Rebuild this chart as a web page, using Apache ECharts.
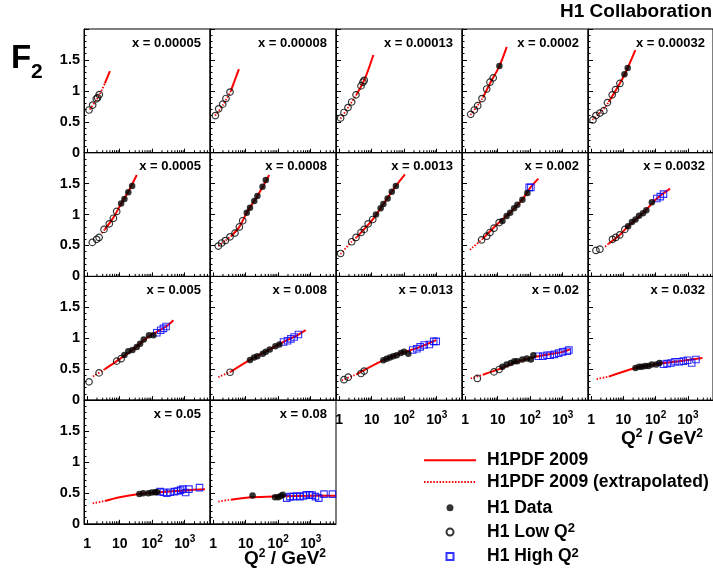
<!DOCTYPE html>
<html><head><meta charset="utf-8">
<script src="https://cdn.jsdelivr.net/npm/echarts@6/dist/echarts.min.js"></script>
<style>html,body{margin:0;padding:0;background:#fff}#chart{width:713px;height:577px}</style>
</head><body><div id="chart"></div>
<script>
// ---------------- data ----------------
const xBins = ['0.00005','0.00008','0.00013','0.0002','0.00032','0.0005','0.0008','0.0013','0.002','0.0032','0.005','0.008','0.013','0.02','0.032','0.05','0.08'];
const xTickValues = [1, 10, 100, 1000];
const xTickLabels = ['1', '10', '10{s|2}', '10{s|3}'];
const yTickValues = [0, 0.5, 1, 1.5];
const yTickLabels = ['0', '0.5', '1', '1.5'];
const minorXTicks = [2,3,4,5,6,7,8,9,20,30,40,50,60,70,80,90,200,300,400,500,600,700,800,900,2000,3000,4000,5000];
const fitBoundary = 3.5; // Q2 above which the fit is shown solid

const fitCurves = [
  [[1.2,0.70],[1.9,0.85],[2.4,0.94],[3.5,1.12],[5.0,1.32]],
  [[1.15,0.60],[2.0,0.77],[3.5,1.0],[6.2,1.35]],
  [[1.1,0.55],[2.0,0.75],[3.5,0.95],[6.0,1.18],[11.3,1.58]],
  [[1.45,0.61],[2.4,0.76],[3.5,0.89],[5.8,1.12],[11.3,1.40],[19,1.71]],
  [[1.1,0.53],[2.5,0.71],[3.5,0.82],[5.7,1.0],[10.8,1.26],[23.5,1.66]],
  [[2.8,0.70],[3.5,0.76],[6.4,0.95],[11,1.17],[18,1.36],[33.5,1.64]],
  [[1.44,0.49],[2.4,0.58],[3.5,0.645],[6.4,0.80],[10.8,1.03],[22.9,1.30],[53,1.64]],
  [[1.1,0.36],[2.4,0.56],[3.5,0.635],[10.8,0.92],[23,1.17],[55,1.46],[106,1.65]],
  [[1.4,0.43],[3.5,0.61],[11,0.87],[24,1.03],[57,1.24],[100,1.43],[178,1.58]],
  [[2.7,0.48],[3.5,0.53],[7.7,0.67],[14,0.81],[40,1.02],[109,1.26],[280,1.42]],
  [[1.5,0.38],[3.5,0.50],[8.1,0.63],[24.7,0.81],[80,1.03],[268,1.19],[449,1.29]],
  [[1.44,0.37],[3.5,0.46],[13.6,0.65],[55,0.82],[146,0.94],[420,1.06],[700,1.13]],
  [[1.2,0.32],[3.5,0.42],[23,0.645],[79,0.76],[245,0.84],[967,0.97]],
  [[1.48,0.35],[3.5,0.41],[11,0.50],[40,0.62],[178,0.71],[1000,0.78],[1670,0.82]],
  [[1.48,0.34],[3.5,0.38],[23.7,0.52],[131,0.59],[540,0.63],[2836,0.68]],
  [[1.48,0.33],[3.5,0.37],[10,0.43],[40,0.48],[175,0.51],[1000,0.54],[4200,0.56]],
  [[1.44,0.36],[3.5,0.39],[16,0.43],[100,0.445],[1000,0.455],[5900,0.455]]
];

const lowQ2Data = [
  [[1.14,0.69],[1.48,0.77],[1.91,0.87],[2.1,0.89],[2.36,0.94]],
  [[1.17,0.60],[1.48,0.71],[1.97,0.785],[2.48,0.876],[3.3,0.98]],
  [[1.11,0.56],[1.41,0.65],[1.87,0.73],[2.43,0.82],[3.3,0.935],[4.7,1.08],[5.4,1.14],[5.9,1.17]],
  [[1.48,0.62],[1.91,0.69],[2.43,0.76],[3.3,0.875],[4.6,1.03],[5.8,1.14],[7.3,1.21]],
  [[1.14,0.53],[1.41,0.60],[1.87,0.64],[2.47,0.68],[3.2,0.81],[4.5,0.935],[5.7,1.02],[7.8,1.12]],
  [[1.44,0.55],[1.96,0.60],[2.33,0.63],[3.3,0.76],[4.8,0.85],[6.4,0.94],[8.1,1.05]],
  [[1.44,0.49],[1.83,0.54],[2.37,0.58],[3.3,0.64],[4.7,0.70],[6.4,0.80],[8.1,0.90]],
  [[1.11,0.37],[2.43,0.56],[3.3,0.63],[4.7,0.71],[5.9,0.76],[7.8,0.85],[10.8,0.92]],
  [[3.2,0.59],[4.6,0.65],[5.8,0.71],[7.7,0.78],[11.1,0.87]],
  [[1.41,0.42],[1.87,0.44],[4.6,0.60],[5.8,0.63],[7.7,0.67],[11.1,0.76]],
  [[1.14,0.295],[2.33,0.44],[8.1,0.63],[11.1,0.67]],
  [[3.3,0.45]],
  [[1.41,0.33],[1.9,0.37],[4.7,0.43],[5.9,0.47]],
  [[2.37,0.35],[7.7,0.456],[11.1,0.495]],
  [],
  [],
  []
];

const h1Data = [
  [],
  [],
  [],
  [[11.3,1.40]],
  [[10.8,1.27],[13.6,1.37]],
  [[11.1,1.18],[14.0,1.25],[18.4,1.36],[24.2,1.46]],
  [[10.8,1.03],[13.6,1.11],[18.4,1.22],[22.9,1.30],[33,1.45],[41.6,1.56]],
  [[13.6,1.0],[18.9,1.10],[22.9,1.17],[31,1.26],[41.6,1.37],[55.5,1.46]],
  [[14,0.895],[18.9,0.976],[24.2,1.03],[32,1.10],[40.4,1.16],[57.6,1.24],[82,1.35]],
  [[14,0.81],[18.4,0.88],[23.7,0.92],[30.6,0.98],[40.4,1.02],[51.4,1.07],[76.4,1.20]],
  [[14,0.73],[18.4,0.79],[24.7,0.81],[33.5,0.86],[42.5,0.91],[55,0.98],[80,1.05],[109,1.05]],
  [[13.6,0.65],[18.1,0.69],[22.9,0.71],[33.5,0.75],[41.6,0.78],[55,0.82],[82,0.87],[109,0.90]],
  [[22.9,0.645],[29,0.67],[36.4,0.69],[46,0.71],[59,0.725],[79,0.76],[99,0.78],[134,0.75]],
  [[14,0.54],[18.9,0.575],[25.3,0.60],[32.6,0.63],[40.4,0.63],[57.6,0.656],[79,0.672],[105,0.656],[125,0.726]],
  [[23.7,0.52],[30.6,0.54],[37.8,0.54],[47.8,0.55],[60,0.55],[76,0.575],[104,0.575],[131,0.60]],
  [[40.4,0.48],[53,0.495],[76,0.495],[97,0.505],[124,0.51],[140,0.516]],
  [[16.3,0.456],[80,0.43],[100,0.43],[119,0.45],[139,0.468]]
];

const highQ2Data = [
  [],[],[],[],[],[],[],[],
  [[93,1.44],[105,1.44]],
  [[109,1.26],[139,1.29],[175,1.33]],
  [[139,1.09],[183,1.13],[222,1.16],[268,1.19]],
  [[146,0.94],[194,0.96],[245,0.99],[310,1.02],[420,1.06]],
  [[183,0.81],[245,0.83],[310,0.86],[414,0.89],[594,0.90],[808,0.95],[967,0.95]],
  [[178,0.71],[245,0.71],[330,0.726],[414,0.726],[555,0.74],[755,0.76],[1000,0.78],[1380,0.79],[1550,0.81]],
  [[175,0.58],[226,0.59],[300,0.60],[398,0.62],[540,0.62],[720,0.63],[980,0.645],[1310,0.60],[1780,0.656]],
  [[175,0.52],[222,0.51],[283,0.495],[360,0.51],[483,0.52],[615,0.53],[745,0.545],[880,0.56],[1070,0.505],[1350,0.56],[2850,0.585]],
  [[183,0.415],[230,0.44],[292,0.44],[372,0.45],[470,0.44],[600,0.45],[730,0.468],[930,0.468],[1100,0.463],[1400,0.44],[1780,0.415],[2560,0.48],[4660,0.48]]
];

// ---------------- layout / style ----------------
const FONT = '"Liberation Sans", Arial, Helvetica, sans-serif';
const W = 713;
const LEFT0 = 84, COLW = 126, TOP0 = 29, ROWH = 123.7, NCOL = 5;
const XMIN = 0.8, XMAX = 6000;
const RED = '#ff0000', BLUE = '#0000ff';
const supStyle = (fs, lh) => ({fontSize: fs, fontWeight: 'bold', fontFamily: FONT, color: '#000', lineHeight: lh, verticalAlign: 'top'});

const grids = [], xAxes = [], yAxes = [], series = [], titles = [];

xBins.forEach((bin, i) => {
  const r = Math.floor(i / NCOL), c = i % NCOL;
  const left = LEFT0 + COLW * c, top = TOP0 + ROWH * r;
  const showX = i + NCOL >= xBins.length;
  grids.push({left, top, width: COLW, height: ROWH, show: true, borderColor: '#000', borderWidth: 1, backgroundColor: 'rgba(0,0,0,0)'});
  xAxes.push({
    type: 'log', logBase: 10, gridIndex: i, min: XMIN, max: XMAX,
    axisLine: {show: true, lineStyle: {color: '#000', width: 1}},
    axisTick: {show: true, inside: true, length: 4, lineStyle: {color: '#000', width: 1}},
    splitLine: {show: false}, minorTick: {show: false}, minorSplitLine: {show: false},
    axisLabel: {
      show: showX, showMinLabel: false, showMaxLabel: false, margin: 10,
      fontSize: 14, fontWeight: 'bold', fontFamily: FONT, color: '#000', lineHeight: 20,
      formatter: v => {
        const k = xTickValues.findIndex(t => Math.abs(Math.log10(v) - Math.log10(t)) < 1e-6);
        return k < 0 ? '' : xTickLabels[k];
      },
      rich: {s: supStyle(10, 10)}
    }
  });
  yAxes.push({
    type: 'value', gridIndex: i, min: 0, max: 2, interval: 0.5,
    axisLine: {show: true, lineStyle: {color: '#000', width: 1}},
    axisTick: {show: true, inside: true, length: 5, lineStyle: {color: '#000', width: 1}},
    minorTick: {show: true, splitNumber: 5, length: 2.5, lineStyle: {color: '#000', width: 1}},
    splitLine: {show: false}, minorSplitLine: {show: false},
    axisLabel: {
      show: c === 0, margin: 4, fontSize: 14.5, fontWeight: 'bold', fontFamily: FONT, color: '#000',
      formatter: v => { const k = yTickValues.findIndex(t => Math.abs(t - v) < 1e-9); return k < 0 ? '' : yTickLabels[k]; }
    }
  });
  // minor log ticks on the Q2 axis
  series.push({
    type: 'custom', xAxisIndex: i, yAxisIndex: i, silent: true, clip: false, z: 1,
    data: minorXTicks.map(v => [v, 0]),
    encode: {x: 0, y: 1},
    renderItem: (params, api) => {
      const p = api.coord([api.value(0), 0]);
      return {type: 'line', shape: {x1: p[0], y1: p[1], x2: p[0], y2: p[1] - 2.5}, style: {stroke: '#000', lineWidth: 1}};
    }
  });
  const curve = fitCurves[i];
  series.push({
    type: 'line', name: 'H1PDF 2009', xAxisIndex: i, yAxisIndex: i, z: 2,
    data: curve.filter(p => p[0] >= fitBoundary), symbol: 'none', smooth: 0.3, silent: true,
    lineStyle: {color: RED, width: 2}, itemStyle: {color: 'rgba(0,0,0,0)'}
  });
  series.push({
    type: 'line', name: 'H1PDF 2009 (extrapolated)', xAxisIndex: i, yAxisIndex: i, z: 2,
    data: curve.filter(p => p[0] <= fitBoundary), symbol: 'none', smooth: 0.3, silent: true,
    lineStyle: {color: RED, width: 1.8, type: [1.5, 1.6]}, itemStyle: {color: 'rgba(0,0,0,0)'}
  });
  series.push({
    type: 'scatter', name: 'H1 Data', xAxisIndex: i, yAxisIndex: i, z: 4,
    data: h1Data[i], symbol: 'circle', symbolSize: 6.5, silent: true,
    itemStyle: {color: '#000'}
  });
  series.push({
    type: 'scatter', name: 'H1 Low Q²', xAxisIndex: i, yAxisIndex: i, z: 3,
    data: lowQ2Data[i], symbol: 'circle', symbolSize: 6.5, silent: true,
    itemStyle: {color: 'rgba(0,0,0,0)', borderColor: '#000', borderWidth: 1.2}
  });
  series.push({
    type: 'scatter', name: 'H1 High Q²', xAxisIndex: i, yAxisIndex: i, z: 3,
    data: highQ2Data[i], symbol: 'rect', symbolSize: 6.5, silent: true,
    itemStyle: {color: 'rgba(0,0,0,0)', borderColor: BLUE, borderWidth: 1.1}
  });
  titles.push({
    text: 'x = ' + bin, right: W - (left + COLW) + 9, top: top + 6, padding: 0,
    textStyle: {fontSize: 13, fontWeight: 'bold', fontFamily: FONT, color: '#000', lineHeight: 16}
  });
});

const mainText = {fontSize: 19, fontWeight: 'bold', fontFamily: FONT, color: '#000', lineHeight: 22};
titles.push({text: 'H1 Collaboration', right: 1, top: 2, padding: 0,
  textStyle: {fontSize: 19, fontWeight: 'bold', fontFamily: FONT, color: '#000', lineHeight: 20}});
titles.push({text: 'F', left: 11, top: 42, padding: 0,
  textStyle: {fontSize: 33, fontWeight: 'bold', fontFamily: FONT, color: '#000', lineHeight: 34}});
titles.push({text: '2', left: 31, top: 61.5, padding: 0,
  textStyle: {fontSize: 21, fontWeight: 'bold', fontFamily: FONT, color: '#000', lineHeight: 22}});
const q2Title = '{a|Q}{s|2}{a| / GeV}{s|2}';
titles.push({text: q2Title, right: W - 326, top: 548, padding: 0, textStyle: {rich: {a: mainText, s: supStyle(12, 12)}}});
titles.push({text: q2Title, right: 10, top: 428, padding: 0, textStyle: {rich: {a: mainText, s: supStyle(12, 12)}}});

const legendText = {fontSize: 17.5, fontWeight: 'bold', fontFamily: FONT, color: '#000', lineHeight: 20};
const makeFormatter = () => name => {
  const m = name.match(/^(.*)²$/);
  return m ? '{g| }{t|' + m[1] + '}{s|2}' : '{g| }{t|' + name + '}';
};
const lineLegendRich = {g: {width: 6, lineHeight: 20}, t: legendText, s: supStyle(13, 12)};
const markerLegendRich = {g: {width: 28.5, lineHeight: 20}, t: legendText, s: supStyle(13, 12)};

const option = {
  animation: false,
  backgroundColor: '#fff',
  title: titles,
  legend: [
    {
      data: ['H1PDF 2009', 'H1PDF 2009 (extrapolated)'], orient: 'vertical', left: 423, top: 451.3,
      itemWidth: 52, itemHeight: 10, itemGap: 3.8, padding: 0, selectedMode: false,
      itemStyle: {opacity: 0},
      formatter: makeFormatter(), textStyle: {rich: lineLegendRich}
    },
    {
      data: ['H1 Data', 'H1 Low Q²', {name: 'H1 High Q²', icon: 'path://M0,0H10V10H0Z'}], orient: 'vertical', left: 445.5, top: 498.7,
      itemWidth: 7, itemHeight: 7, itemGap: 5.4, padding: 0, selectedMode: false,
      formatter: makeFormatter(), textStyle: {rich: markerLegendRich}
    }
  ],
  grid: grids, xAxis: xAxes, yAxis: yAxes, series
};

const chart = echarts.init(document.getElementById('chart'), null, {renderer: 'canvas'});
chart.setOption(option);
</script></body></html>
